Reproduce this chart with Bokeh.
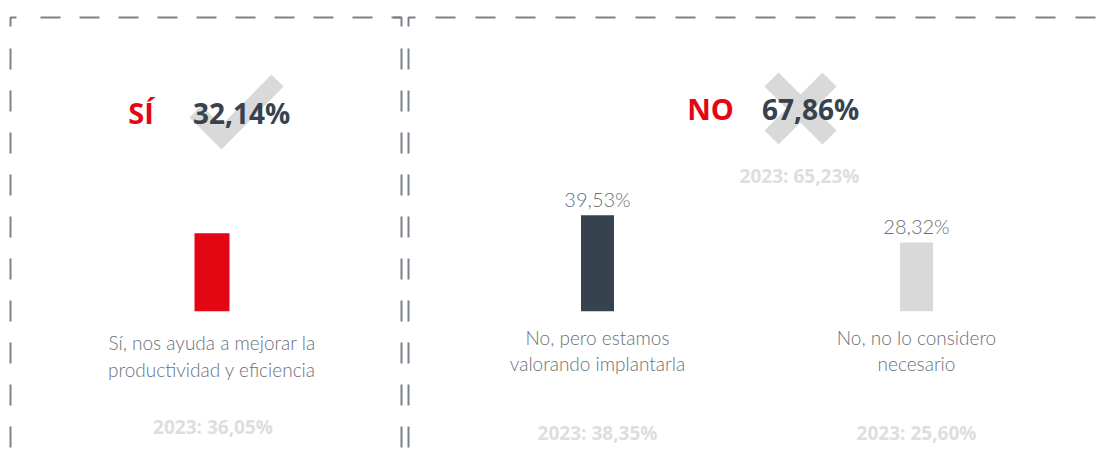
from bokeh.plotting import figure
from bokeh.models import Range1d, ColumnDataSource
from bokeh.core.properties import value
from bokeh.embed import file_html
from bokeh.resources import INLINE

# ---------------- data ----------------
categories = ["Sí, nos ayuda a mejorar la\nproductividad y eficiencia",
              "No, pero estamos\nvalorando implantarla",
              "No, no lo considero\nnecesario"]
values_2024 = [32.14, 39.53, 28.32]
values_2023 = [36.05, 38.35, 25.60]
groups = ["SÍ", "NO"]
group_totals = [32.14, 67.86]
group_total_2023 = [None, 65.23]

def fmt(v):
    return f"{v:.2f}".replace(".", ",") + "%"

# ---------------- layout / style ----------------
bar_colors = ["#e30613", "#37424f", "#d9d9d9"]
bar_x = [211.5, 597, 916]
bar_w = [35, 33, 33]
cat_label_y = [355.5, 350, 350]
y2023_label_y = [426, 432, 432]
group_word_x = [140.5, 710]
group_num_x = [241, 810]
group_y = [112, 108]
LABEL_GREY = "#6b7077"
FAINT = "#dedede"
BORDER = "#7b8189"
LABEL_FONT = value("Lato Light")

p = figure(width=1099, height=454, x_range=Range1d(0, 1099), y_range=Range1d(454, 0),
           output_backend="svg", toolbar_location=None, min_border=0,
           background_fill_color="white", border_fill_color="white")
p.extra_y_ranges = {"pct": Range1d(-59.0, 127.98)}
p.xaxis.visible = False
p.yaxis.visible = False
p.xgrid.visible = False
p.ygrid.visible = False
p.outline_line_color = None

# ---------------- dashed panel borders ----------------
lw = 2
# left panel
p.line([40, 401], [17, 17], line_color=BORDER, line_width=lw, line_dash="20 19")
p.line([10, 10], [48, 470], line_color=BORDER, line_width=lw, line_dash="21 21")
p.line([401, 401], [48, 470], line_color=BORDER, line_width=lw, line_dash="21 21")
p.line([16, 10, 10], [17, 17, 26], line_color=BORDER, line_width=lw)
p.line([393, 401, 401], [17, 17, 26], line_color=BORDER, line_width=lw)
# right panel
p.line([435, 1120], [17, 17], line_color=BORDER, line_width=lw, line_dash="20 20")
p.line([408, 408], [48, 470], line_color=BORDER, line_width=lw, line_dash="21 21")
p.line([415, 408, 408], [17, 17, 26], line_color=BORDER, line_width=lw)

# ---------------- icons (decorative) ----------------
p.line([195, 221, 277], [111, 137, 80], line_color="#d9d9d9", line_width=17,
       line_join="miter", line_cap="butt")
p.multi_line([[771, 829], [829, 771]], [[79, 137], [79, 137]], line_color="#d9d9d9",
             line_width=20, line_cap="butt")

# ---------------- header texts ----------------
p.text(x=group_word_x, y=group_y, text=groups, text_color="#e30613",
       text_font=value("Open Sans"), text_font_style="bold", text_font_size="29px",
       text_align="center", text_baseline="middle")
p.text(x=group_num_x, y=group_y, text=[fmt(v) for v in group_totals], text_color="#37424f",
       text_font=value("Open Sans"), text_font_style="bold", text_font_size="28px",
       text_align="center", text_baseline="middle")
p.text(x=[799], y=[175], text=["2023: " + fmt(group_total_2023[1])], text_color=FAINT,
       text_font=value("Open Sans"), text_font_style="bold", text_font_size="19px",
       text_align="center", text_baseline="middle")

# ---------------- bars ----------------
src = ColumnDataSource(dict(x=bar_x, w=bar_w, top=values_2024, color=bar_colors))
p.vbar(x="x", width="w", top="top", bottom=0, fill_color="color", line_color=None,
       source=src, y_range_name="pct")

# value labels above the "NO" bars
vsrc = ColumnDataSource(dict(x=bar_x[1:], top=values_2024[1:],
                             lab=[fmt(v) for v in values_2024[1:]]))
p.text(x="x", y="top", text="lab", source=vsrc, y_range_name="pct", y_offset=-16,
       text_color=LABEL_GREY, text_font=LABEL_FONT, text_font_size="20px",
       text_align="center", text_baseline="alphabetic")

# category labels
p.text(x=bar_x, y=cat_label_y, text=categories, text_color=LABEL_GREY,
       text_font=LABEL_FONT, text_font_size="19px", text_line_height=1.15,
       text_align="center", text_baseline="middle")

# 2023 labels
p.text(x=[bar_x[0] + 1, bar_x[1], bar_x[2]], y=y2023_label_y,
       text=["2023: " + fmt(v) for v in values_2023], text_color=FAINT,
       text_font=value("Open Sans"), text_font_style="bold", text_font_size="19px",
       text_align="center", text_baseline="middle")

open("out.html", "w").write(file_html(p, INLINE))
